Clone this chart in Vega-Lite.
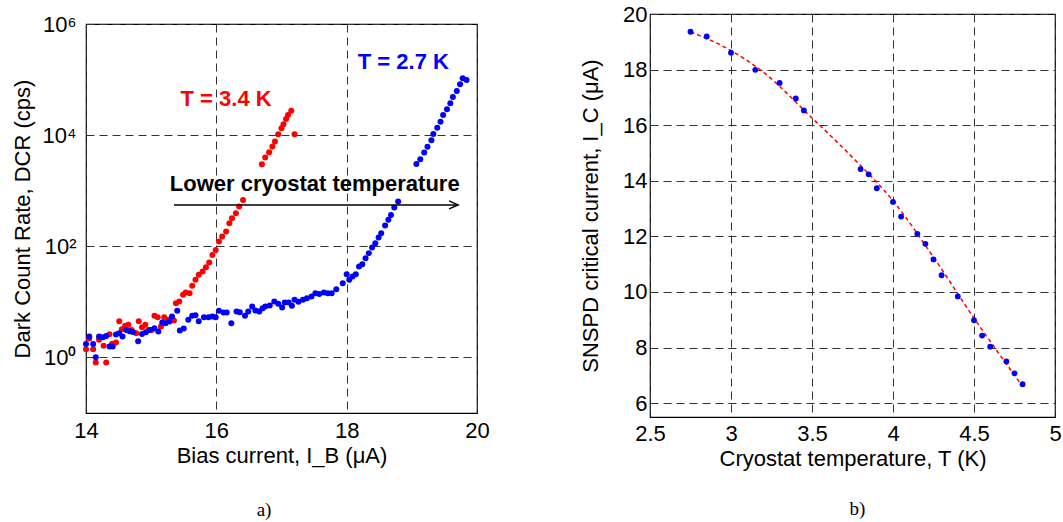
{
  "$schema": "https://vega.github.io/schema/vega-lite/v6.json",
  "background": "white",
  "padding": {"left": 10, "top": 2, "right": 0, "bottom": 0},
  "spacing": 88,
  "datasets": {
    "dcr": [
      {"I": 14.00, "DCR": 1.41, "T": "3.4 K"}, {"I": 14.05, "DCR": 2.19, "T": "3.4 K"}, {"I": 14.11, "DCR": 1.41, "T": "3.4 K"},
      {"I": 14.15, "DCR": 0.81, "T": "3.4 K"}, {"I": 14.20, "DCR": 2.07, "T": "3.4 K"}, {"I": 14.27, "DCR": 1.62, "T": "3.4 K"},
      {"I": 14.31, "DCR": 0.81, "T": "3.4 K"}, {"I": 14.36, "DCR": 2.62, "T": "3.4 K"}, {"I": 14.40, "DCR": 1.76, "T": "3.4 K"},
      {"I": 14.46, "DCR": 1.85, "T": "3.4 K"}, {"I": 14.51, "DCR": 4.49, "T": "3.4 K"}, {"I": 14.55, "DCR": 3.22, "T": "3.4 K"},
      {"I": 14.60, "DCR": 3.70, "T": "3.4 K"}, {"I": 14.65, "DCR": 3.86, "T": "3.4 K"}, {"I": 14.70, "DCR": 3.13, "T": "3.4 K"},
      {"I": 14.77, "DCR": 2.73, "T": "3.4 K"}, {"I": 14.81, "DCR": 4.49, "T": "3.4 K"}, {"I": 14.86, "DCR": 3.50, "T": "3.4 K"},
      {"I": 14.91, "DCR": 3.86, "T": "3.4 K"}, {"I": 14.96, "DCR": 3.13, "T": "3.4 K"}, {"I": 15.01, "DCR": 3.13, "T": "3.4 K"},
      {"I": 15.05, "DCR": 5.60, "T": "3.4 K"}, {"I": 15.10, "DCR": 5.30, "T": "3.4 K"}, {"I": 15.15, "DCR": 3.60, "T": "3.4 K"},
      {"I": 15.20, "DCR": 5.30, "T": "3.4 K"}, {"I": 15.26, "DCR": 4.75, "T": "3.4 K"}, {"I": 15.32, "DCR": 5.01, "T": "3.4 K"},
      {"I": 15.35, "DCR": 4.61, "T": "3.4 K"}, {"I": 15.38, "DCR": 9.46, "T": "3.4 K"}, {"I": 15.43, "DCR": 10.1, "T": "3.4 K"},
      {"I": 15.49, "DCR": 13.4, "T": "3.4 K"}, {"I": 15.53, "DCR": 14.7, "T": "3.4 K"}, {"I": 15.59, "DCR": 14.3, "T": "3.4 K"},
      {"I": 15.63, "DCR": 19.4, "T": "3.4 K"}, {"I": 15.68, "DCR": 24.9, "T": "3.4 K"}, {"I": 15.73, "DCR": 30.6, "T": "3.4 K"},
      {"I": 15.79, "DCR": 35.1, "T": "3.4 K"}, {"I": 15.84, "DCR": 42.0, "T": "3.4 K"}, {"I": 15.89, "DCR": 51.0, "T": "3.4 K"},
      {"I": 15.94, "DCR": 70.0, "T": "3.4 K"}, {"I": 15.99, "DCR": 86.1, "T": "3.4 K"}, {"I": 16.04, "DCR": 121.6, "T": "3.4 K"},
      {"I": 16.09, "DCR": 149.6, "T": "3.4 K"}, {"I": 16.15, "DCR": 184, "T": "3.4 K"}, {"I": 16.20, "DCR": 260, "T": "3.4 K"},
      {"I": 16.24, "DCR": 320, "T": "3.4 K"}, {"I": 16.30, "DCR": 394, "T": "3.4 K"}, {"I": 16.35, "DCR": 519, "T": "3.4 K"},
      {"I": 16.41, "DCR": 684, "T": "3.4 K"}, {"I": 16.70, "DCR": 2990, "T": "3.4 K"}, {"I": 16.75, "DCR": 3945, "T": "3.4 K"},
      {"I": 16.81, "DCR": 4920, "T": "3.4 K"}, {"I": 16.86, "DCR": 6220, "T": "3.4 K"}, {"I": 16.90, "DCR": 7650, "T": "3.4 K"},
      {"I": 16.95, "DCR": 10350, "T": "3.4 K"}, {"I": 17.00, "DCR": 13270, "T": "3.4 K"}, {"I": 17.03, "DCR": 15670, "T": "3.4 K"},
      {"I": 17.07, "DCR": 19540, "T": "3.4 K"}, {"I": 17.10, "DCR": 23060, "T": "3.4 K"}, {"I": 17.15, "DCR": 27600, "T": "3.4 K"},
      {"I": 17.20, "DCR": 10350, "T": "3.4 K"},
      {"I": 14.00, "DCR": 1.75, "T": "2.7 K"}, {"I": 14.05, "DCR": 2.38, "T": "2.7 K"}, {"I": 14.11, "DCR": 1.75, "T": "2.7 K"},
      {"I": 14.15, "DCR": 1.01, "T": "2.7 K"}, {"I": 14.20, "DCR": 2.38, "T": "2.7 K"}, {"I": 14.26, "DCR": 2.31, "T": "2.7 K"},
      {"I": 14.31, "DCR": 2.44, "T": "2.7 K"}, {"I": 14.36, "DCR": 1.57, "T": "2.7 K"}, {"I": 14.41, "DCR": 1.57, "T": "2.7 K"},
      {"I": 14.46, "DCR": 2.58, "T": "2.7 K"}, {"I": 14.51, "DCR": 2.73, "T": "2.7 K"}, {"I": 14.56, "DCR": 2.38, "T": "2.7 K"},
      {"I": 14.62, "DCR": 3.13, "T": "2.7 K"}, {"I": 14.67, "DCR": 2.97, "T": "2.7 K"}, {"I": 14.72, "DCR": 2.88, "T": "2.7 K"},
      {"I": 14.80, "DCR": 1.96, "T": "2.7 K"}, {"I": 14.86, "DCR": 2.65, "T": "2.7 K"}, {"I": 14.92, "DCR": 2.84, "T": "2.7 K"},
      {"I": 14.98, "DCR": 3.13, "T": "2.7 K"}, {"I": 15.05, "DCR": 3.36, "T": "2.7 K"}, {"I": 15.11, "DCR": 2.92, "T": "2.7 K"},
      {"I": 15.17, "DCR": 4.25, "T": "2.7 K"}, {"I": 15.22, "DCR": 4.13, "T": "2.7 K"}, {"I": 15.28, "DCR": 4.42, "T": "2.7 K"},
      {"I": 15.32, "DCR": 5.44, "T": "2.7 K"}, {"I": 15.40, "DCR": 6.89, "T": "2.7 K"}, {"I": 15.44, "DCR": 3.05, "T": "2.7 K"},
      {"I": 15.50, "DCR": 3.31, "T": "2.7 K"}, {"I": 15.57, "DCR": 4.74, "T": "2.7 K"}, {"I": 15.63, "DCR": 5.60, "T": "2.7 K"},
      {"I": 15.68, "DCR": 5.75, "T": "2.7 K"}, {"I": 15.73, "DCR": 4.49, "T": "2.7 K"}, {"I": 15.81, "DCR": 5.30, "T": "2.7 K"},
      {"I": 15.88, "DCR": 5.30, "T": "2.7 K"}, {"I": 15.94, "DCR": 5.44, "T": "2.7 K"}, {"I": 15.99, "DCR": 5.30, "T": "2.7 K"},
      {"I": 16.04, "DCR": 6.89, "T": "2.7 K"}, {"I": 16.11, "DCR": 6.43, "T": "2.7 K"}, {"I": 16.16, "DCR": 6.43, "T": "2.7 K"},
      {"I": 16.23, "DCR": 4.13, "T": "2.7 K"}, {"I": 16.31, "DCR": 6.70, "T": "2.7 K"}, {"I": 16.36, "DCR": 6.52, "T": "2.7 K"},
      {"I": 16.44, "DCR": 5.60, "T": "2.7 K"}, {"I": 16.49, "DCR": 6.70, "T": "2.7 K"}, {"I": 16.55, "DCR": 8.24, "T": "2.7 K"},
      {"I": 16.60, "DCR": 6.98, "T": "2.7 K"}, {"I": 16.66, "DCR": 6.70, "T": "2.7 K"}, {"I": 16.71, "DCR": 7.69, "T": "2.7 K"},
      {"I": 16.75, "DCR": 8.24, "T": "2.7 K"}, {"I": 16.82, "DCR": 8.59, "T": "2.7 K"}, {"I": 16.89, "DCR": 10.1, "T": "2.7 K"},
      {"I": 16.95, "DCR": 9.2, "T": "2.7 K"}, {"I": 17.01, "DCR": 7.91, "T": "2.7 K"}, {"I": 17.05, "DCR": 9.73, "T": "2.7 K"},
      {"I": 17.11, "DCR": 9.73, "T": "2.7 K"}, {"I": 17.16, "DCR": 8.47, "T": "2.7 K"}, {"I": 17.20, "DCR": 10.9, "T": "2.7 K"},
      {"I": 17.26, "DCR": 10.0, "T": "2.7 K"}, {"I": 17.33, "DCR": 10.9, "T": "2.7 K"}, {"I": 17.39, "DCR": 11.6, "T": "2.7 K"},
      {"I": 17.46, "DCR": 12.5, "T": "2.7 K"}, {"I": 17.52, "DCR": 14.3, "T": "2.7 K"}, {"I": 17.58, "DCR": 13.9, "T": "2.7 K"},
      {"I": 17.65, "DCR": 14.7, "T": "2.7 K"}, {"I": 17.71, "DCR": 14.3, "T": "2.7 K"}, {"I": 17.77, "DCR": 14.3, "T": "2.7 K"},
      {"I": 17.84, "DCR": 16.9, "T": "2.7 K"}, {"I": 17.94, "DCR": 21.7, "T": "2.7 K"}, {"I": 18.00, "DCR": 31.5, "T": "2.7 K"},
      {"I": 18.04, "DCR": 24.9, "T": "2.7 K"}, {"I": 18.09, "DCR": 28.5, "T": "2.7 K"}, {"I": 18.14, "DCR": 31.5, "T": "2.7 K"},
      {"I": 18.19, "DCR": 43.1, "T": "2.7 K"}, {"I": 18.24, "DCR": 47.6, "T": "2.7 K"}, {"I": 18.29, "DCR": 61.1, "T": "2.7 K"},
      {"I": 18.34, "DCR": 75.2, "T": "2.7 K"}, {"I": 18.39, "DCR": 94.8, "T": "2.7 K"}, {"I": 18.44, "DCR": 113.8, "T": "2.7 K"},
      {"I": 18.49, "DCR": 143.5, "T": "2.7 K"}, {"I": 18.53, "DCR": 172, "T": "2.7 K"}, {"I": 18.59, "DCR": 236, "T": "2.7 K"},
      {"I": 18.64, "DCR": 299, "T": "2.7 K"}, {"I": 18.68, "DCR": 367, "T": "2.7 K"}, {"I": 18.73, "DCR": 497, "T": "2.7 K"},
      {"I": 18.79, "DCR": 637, "T": "2.7 K"}, {"I": 19.07, "DCR": 3030, "T": "2.7 K"}, {"I": 19.13, "DCR": 3690, "T": "2.7 K"},
      {"I": 19.19, "DCR": 4850, "T": "2.7 K"}, {"I": 19.24, "DCR": 6210, "T": "2.7 K"}, {"I": 19.30, "DCR": 8090, "T": "2.7 K"},
      {"I": 19.33, "DCR": 10520, "T": "2.7 K"}, {"I": 19.39, "DCR": 13650, "T": "2.7 K"}, {"I": 19.44, "DCR": 17500, "T": "2.7 K"},
      {"I": 19.48, "DCR": 23070, "T": "2.7 K"}, {"I": 19.54, "DCR": 29240, "T": "2.7 K"}, {"I": 19.59, "DCR": 37500, "T": "2.7 K"},
      {"I": 19.63, "DCR": 48700, "T": "2.7 K"}, {"I": 19.69, "DCR": 62400, "T": "2.7 K"}, {"I": 19.74, "DCR": 82200, "T": "2.7 K"},
      {"I": 19.78, "DCR": 105400, "T": "2.7 K"}, {"I": 19.84, "DCR": 98400, "T": "2.7 K"}
    ],
    "ic": [
      {"T": 2.75, "Ic": 19.36}, {"T": 2.85, "Ic": 19.19}, {"T": 3.0, "Ic": 18.61}, {"T": 3.15, "Ic": 17.99},
      {"T": 3.3, "Ic": 17.52}, {"T": 3.4, "Ic": 16.96}, {"T": 3.45, "Ic": 16.53}, {"T": 3.8, "Ic": 14.42},
      {"T": 3.85, "Ic": 14.23}, {"T": 3.9, "Ic": 13.73}, {"T": 4.0, "Ic": 13.24}, {"T": 4.05, "Ic": 12.71},
      {"T": 4.15, "Ic": 12.09}, {"T": 4.2, "Ic": 11.73}, {"T": 4.25, "Ic": 11.17}, {"T": 4.3, "Ic": 10.60},
      {"T": 4.4, "Ic": 9.84}, {"T": 4.5, "Ic": 8.98}, {"T": 4.55, "Ic": 8.43}, {"T": 4.6, "Ic": 8.03},
      {"T": 4.7, "Ic": 7.50}, {"T": 4.75, "Ic": 7.07}, {"T": 4.8, "Ic": 6.68}
    ],
    "fit": [
      {"T": 2.75, "Ic": 19.35}, {"T": 2.8, "Ic": 19.24}, {"T": 3.0, "Ic": 18.68}, {"T": 3.175, "Ic": 18.02},
      {"T": 3.5, "Ic": 16.26}, {"T": 3.75, "Ic": 14.84}, {"T": 4.0, "Ic": 13.28}, {"T": 4.25, "Ic": 11.25},
      {"T": 4.5, "Ic": 9.06}, {"T": 4.8, "Ic": 6.6}
    ]
  },
  "hconcat": [
    {
      "spacing": -6,
      "vconcat": [
        {
          "width": 391,
          "height": 1,
          "data": {"values": [{}]},
          "mark": {"type": "point", "opacity": 0},
          "view": {"stroke": null}
        },
        {
          "width": 391,
          "height": 389,
          "title": {"text": "a)", "orient": "bottom", "frame": "group", "anchor": "middle", "font": "Liberation Serif", "fontSize": 19, "fontWeight": "normal", "color": "black", "offset": 35, "dx": -17.5},
          "layer": [
            {
              "data": {"name": "dcr"},
              "mark": {"type": "point", "filled": true, "size": 36, "opacity": 1},
              "encoding": {
                "x": {"field": "I", "type": "quantitative", "scale": {"domain": [14, 20], "nice": false, "zero": false},
                      "axis": {"values": [14, 16, 18, 20], "format": "d", "title": "Bias current, I_B (μA)", "labelPadding": 7, "titlePadding": 4}},
                "y": {"field": "DCR", "type": "quantitative", "scale": {"type": "log", "domain": [0.1, 1000000], "nice": false},
                      "axis": {"values": [1, 100, 10000, 1000000], "title": "Dark Count Rate, DCR (cps)", "labelPadding": 10, "titlePadding": 8,
                               "labelExpr": "datum.value == 1 ? '10⁰' : datum.value == 100 ? '10²' : datum.value == 10000 ? '10⁴' : '10⁶'"}},
                "color": {"field": "T", "type": "nominal", "scale": {"domain": ["2.7 K", "3.4 K"], "range": ["#0000ff", "#ff0000"]}, "legend": null}
              }
            },
            {
              "data": {"values": [{}]},
              "mark": {"type": "text", "text": "T = 3.4 K", "font": "Liberation Sans", "fontSize": 22, "fontWeight": "bold", "color": "#ff0000", "align": "center", "baseline": "middle"},
              "encoding": {"x": {"datum": 16.15}, "y": {"datum": 44770}}
            },
            {
              "data": {"values": [{}]},
              "mark": {"type": "text", "text": "T = 2.7 K", "font": "Liberation Sans", "fontSize": 22, "fontWeight": "bold", "color": "#0000ff", "align": "center", "baseline": "middle"},
              "encoding": {"x": {"datum": 18.87}, "y": {"datum": 204600}}
            },
            {
              "data": {"values": [{}]},
              "mark": {"type": "text", "text": "Lower cryostat temperature", "font": "Liberation Sans", "fontSize": 22, "fontWeight": "bold", "color": "black", "align": "center", "baseline": "middle"},
              "encoding": {"x": {"datum": 17.51}, "y": {"datum": 1324}}
            },
            {
              "data": {"values": [{}]},
              "mark": {"type": "rule", "color": "black", "strokeWidth": 1.5},
              "encoding": {"x": {"datum": 15.35}, "x2": {"datum": 19.71}, "y": {"datum": 556}}
            },
            {
              "data": {"values": [{}]},
              "mark": {"type": "point", "shape": "M-1,-0.45L0,0L-1,0.45", "size": 324, "filled": false, "stroke": "black", "strokeWidth": 1.5, "opacity": 1},
              "encoding": {"x": {"datum": 19.71}, "y": {"datum": 556}}
            }
          ]
        }
      ]
    },
    {
      "width": 405,
      "height": 403,
      "title": {"text": "b)", "orient": "bottom", "frame": "group", "anchor": "middle", "font": "Liberation Serif", "fontSize": 19, "fontWeight": "normal", "color": "black", "offset": 31, "dx": 5},
      "layer": [
        {
          "data": {"name": "fit"},
          "mark": {"type": "line", "color": "#ff0000", "strokeWidth": 1.5, "strokeDash": [4, 3], "interpolate": "monotone"},
          "encoding": {
            "x": {"field": "T", "type": "quantitative", "scale": {"domain": [2.5, 5], "nice": false, "zero": false},
                  "axis": {"values": [2.5, 3, 3.5, 4, 4.5, 5], "format": "~g", "title": "Cryostat temperature, T (K)", "labelPadding": 6, "titlePadding": 4}},
            "y": {"field": "Ic", "type": "quantitative", "scale": {"domain": [5.5, 20], "nice": false, "zero": false},
                  "axis": {"values": [6, 8, 10, 12, 14, 16, 18, 20], "format": "d", "title": "SNSPD critical current, I_C (μA)", "labelPadding": 3, "titlePadding": 20}}
          }
        },
        {
          "data": {"name": "ic"},
          "mark": {"type": "point", "filled": true, "size": 34, "color": "#0000ff", "opacity": 1},
          "encoding": {
            "x": {"field": "T", "type": "quantitative"},
            "y": {"field": "Ic", "type": "quantitative"}
          }
        }
      ]
    }
  ],
  "config": {
    "view": {"stroke": "black", "strokeWidth": 1.2},
    "axis": {
      "labelFont": "Liberation Sans", "titleFont": "Liberation Sans",
      "labelFontSize": 22, "titleFontSize": 22, "labelColor": "black", "titleColor": "black",
      "titleFontWeight": "normal", "domain": false, "ticks": false, "tickSize": 0,
      "labelFlush": false, "labelOverlap": false,
      "grid": true, "gridColor": "#333333", "gridDash": [8, 5], "gridWidth": 1, "gridOpacity": 1
    }
  }
}
